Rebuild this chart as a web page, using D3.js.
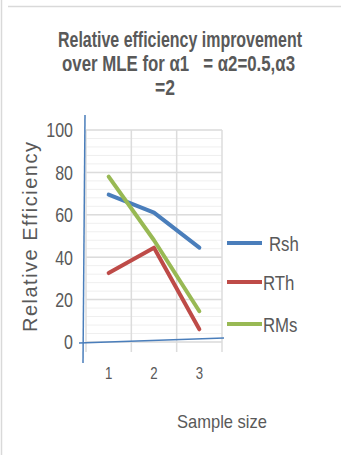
<!DOCTYPE html>
<html>
<head>
<meta charset="utf-8">
<script src="https://cdn.jsdelivr.net/npm/d3@7"></script>
<style>
  body { margin: 0; background: #fff; }
  text { fill: #595959; font-family: 'Liberation Sans', Arial, sans-serif; }
</style>
</head>
<body>
<svg id="chart" width="341" height="455"></svg>
<script>
var sampleSizes = ["1", "2", "3"];
var seriesNames = ["Rsh", "RTh", "RMs"];
var seriesColors = ["#4a7ebb", "#be4b48", "#98b954"];
var rshValues = [69.5, 61, 44.5];
var rthValues = [32.5, 44.5, 6];
var rmsValues = [78, 48, 14.5];
var yTicks = [0, 20, 40, 60, 80, 100];
var titleLines = ["Relative efficiency improvement", "over MLE for \u03b11\u00a0\u00a0 = \u03b12=0.5,\u03b13", "=2"];

var svg = d3.select("#chart");
var series = [rshValues, rthValues, rmsValues];

// plot box (text in the picture is squeezed sideways, so texts get scaled)
var plotLeft = 86, plotRight = 222, plotTop = 130, plotBottom = 342;
var squeeze = 0.8;

var x = d3.scaleBand().domain(sampleSizes).range([plotLeft, plotRight]);
var y = d3.scaleLinear().domain([0, 100]).range([plotBottom, plotTop]);

// frame lines
svg.append("line").attr("x1", 1.5).attr("x2", 1.5).attr("y1", 0).attr("y2", 455)
    .style("stroke", "#d9d9d9").style("stroke-width", 1.5);
svg.append("line").attr("x1", 8).attr("x2", 341).attr("y1", 6.5).attr("y2", 6.5)
    .style("stroke", "#d9d9d9").style("stroke-width", 1.5);

// minor grid
svg.append("g").selectAll("line")
    .data(d3.range(0, 101, 4))
  .enter().append("line")
    .attr("x1", plotLeft).attr("x2", plotRight)
    .attr("y1", function(d) { return y(d); }).attr("y2", function(d) { return y(d); })
    .style("stroke", "#efefef").style("stroke-width", 1);

// major grid
svg.append("g").selectAll("line")
    .data(yTicks)
  .enter().append("line")
    .attr("x1", plotLeft).attr("x2", plotRight)
    .attr("y1", function(d) { return y(d); }).attr("y2", function(d) { return y(d); })
    .style("stroke", "#dcdcdc").style("stroke-width", 1.5);

// vertical grid at category boundaries
var bounds = sampleSizes.map(function(d) { return x(d); }).concat([plotRight]);
svg.append("g").selectAll("line")
    .data(bounds)
  .enter().append("line")
    .attr("x1", function(d) { return d; }).attr("x2", function(d) { return d; })
    .attr("y1", plotTop).attr("y2", plotBottom + 10)
    .style("stroke", "#dcdcdc").style("stroke-width", 1.5);

// y tick labels
svg.append("g").selectAll("text")
    .data(yTicks)
  .enter().append("text")
    .attr("transform", function(d) { return "translate(73," + (y(d) + 7.3) + ") scale(" + squeeze + ",1)"; })
    .attr("text-anchor", "end")
    .style("font-size", "20px")
    .text(function(d) { return d; });

// x tick labels
svg.append("g").selectAll("text")
    .data(sampleSizes)
  .enter().append("text")
    .attr("transform", function(d) { return "translate(" + (x(d) + x.bandwidth() / 2) + ",378.5) scale(" + squeeze + ",1)"; })
    .attr("text-anchor", "middle")
    .style("font-size", "16.5px")
    .text(function(d) { return d; });

// hand drawn blue axes
svg.append("line").attr("x1", 85).attr("y1", 115).attr("x2", 83).attr("y2", 363)
    .style("stroke", "#4a7ebb").style("stroke-width", 1.5);
svg.append("line").attr("x1", 79).attr("y1", 343).attr("x2", 224).attr("y2", 338)
    .style("stroke", "#4a7ebb").style("stroke-width", 1.5);

// series lines
var line = d3.line()
    .x(function(d, i) { return x(sampleSizes[i]) + x.bandwidth() / 2; })
    .y(function(d) { return y(d); });

svg.append("g").selectAll("path")
    .data(series)
  .enter().append("path")
    .attr("d", line)
    .style("fill", "none")
    .style("stroke", function(d, i) { return seriesColors[i]; })
    .style("stroke-width", 4)
    .style("stroke-linecap", "round")
    .style("stroke-linejoin", "round");

// legend
var legendY = [243, 282, 324];
var legendTextX = [269, 263, 263];
var legend = svg.append("g").selectAll("g")
    .data(seriesNames)
  .enter().append("g");
legend.append("line")
    .attr("x1", 227).attr("x2", 262)
    .attr("y1", function(d, i) { return legendY[i]; })
    .attr("y2", function(d, i) { return legendY[i]; })
    .style("stroke", function(d, i) { return seriesColors[i]; })
    .style("stroke-width", 4);
legend.append("text")
    .attr("transform", function(d, i) { return "translate(" + legendTextX[i] + "," + (legendY[i] + 8) + ") scale(" + squeeze + ",1)"; })
    .style("font-size", "21px")
    .text(function(d) { return d; });

// title
var titleX = [180, 178.5, 165];
var titleLen = [244, 233, 20];
svg.append("g").selectAll("text")
    .data(titleLines)
  .enter().append("text")
    .attr("x", function(d, i) { return titleX[i] - titleLen[i] / 2; })
    .attr("y", function(d, i) { return 46.7 + i * 24.2; })
    .attr("textLength", function(d, i) { return titleLen[i]; })
    .attr("lengthAdjust", "spacingAndGlyphs")
    .style("font-weight", "bold")
    .style("font-size", "21.5px")
    .text(function(d) { return d; });

// axis titles
svg.append("text")
    .attr("transform", "translate(37,332) rotate(-90)")
    .attr("textLength", 190)
    .attr("lengthAdjust", "spacing")
    .style("font-size", "20px")
    .text("Relative Efficiency");

svg.append("text")
    .attr("x", 177).attr("y", 428)
    .attr("textLength", 90)
    .attr("lengthAdjust", "spacingAndGlyphs")
    .style("font-size", "19px")
    .text("Sample size");
</script>
</body>
</html>
